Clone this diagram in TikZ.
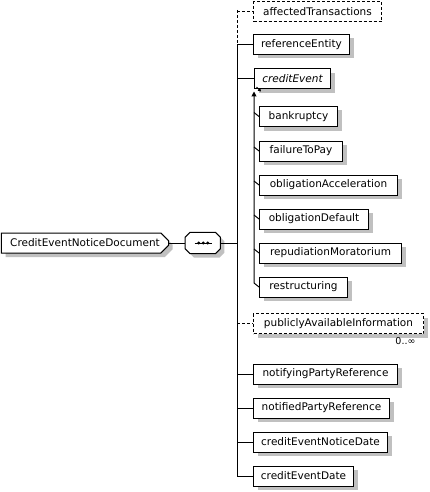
\documentclass[tikz,border=0pt]{standalone}
\usepackage{fontspec}
\setmainfont{DejaVu Sans}
\usetikzlibrary{arrows.meta, positioning, calc, shapes.misc, shadows}
\definecolor{shadowgray}{RGB}{192, 192, 192}
\newcommand{\elemfont}{\fontsize{10.5}{12}\selectfont}

\begin{document}
\begin{tikzpicture}[x=1pt, y=-1pt,
  box/.style={draw, line width=1pt, fill=white, minimum height=20pt, inner sep=0pt, anchor=west, font=\elemfont},
  boxshadow/.style={general shadow={fill=shadowgray, shadow xshift=4pt, shadow yshift=-4pt}},
  elem/.style={box, boxshadow},
  opt/.style={dash pattern=on 3pt off 2pt},
  link/.style={line width=1pt}]
  \useasboundingbox (0,0) rectangle (430,492);

  % root and sequence
  \node[elem, chamfered rectangle, chamfered rectangle corners={north east, south east},
    chamfered rectangle xsep=4pt, minimum width=167pt] (root) at (1,243) {CreditEventNoticeDocument};
  \node[minimum width=35pt, minimum height=21pt, inner sep=0pt, anchor=west] (seq) at (185,243) {};
  \draw[line width=1pt, fill=white, boxshadow] ([xshift=5pt]seq.north west) -- ([xshift=-5pt]seq.north east)
    -- ([yshift=-5pt]seq.north east) -- ([yshift=5pt]seq.south east) -- ([xshift=-5pt]seq.south east)
    -- ([xshift=5pt]seq.south west) -- ([yshift=5pt]seq.south west) -- ([yshift=-5pt]seq.north west) -- cycle;
  \draw[line width=1pt] ([xshift=-8pt]seq.center) -- ([xshift=9pt]seq.center);
  \fill ([xshift=-4pt]seq.center) circle (1.7pt);
  \fill ([xshift=0.5pt]seq.center) circle (1.7pt);
  \fill ([xshift=5pt]seq.center) circle (1.7pt);

  % children
  \node[box, opt, minimum width=128pt] (at) at (253,12) {affectedTransactions};
  \node[elem, minimum width=96pt] (refent) at (253,44.5) {referenceEntity};
  \node[elem, minimum width=76pt, font=\elemfont\itshape] (event) at (254,79) {creditEvent};
  \node[elem, minimum width=78pt] (bank) at (259,116.5) {bankruptcy};
  \node[elem, minimum width=83pt] (fail) at (259,151) {failureToPay};
  \node[elem, minimum width=138pt] (accel) at (259,185) {obligationAcceleration};
  \node[elem, minimum width=109pt] (odef) at (259,219) {obligationDefault};
  \node[elem, minimum width=142pt] (repud) at (259,253) {repudiationMoratorium};
  \node[elem, minimum width=88pt] (restr) at (259,287) {restructuring};
  \node[elem, opt, minimum width=170pt] (pub) at (253,323.5) {publiclyAvailableInformation};
  \node[font=\fontsize{9.5}{10}\selectfont, anchor=north east] (card) at ([xshift=-5pt]pub.south east) {0..∞};
  \node[elem, minimum width=144pt] (notifying) at (253,374) {notifyingPartyReference};
  \node[elem, minimum width=136pt] (notified) at (253,408) {notifiedPartyReference};
  \node[elem, minimum width=134pt] (ndate) at (253,442) {creditEventNoticeDate};
  \node[elem, minimum width=100pt] (edate) at (253,476) {creditEventDate};

  % reference icon
  \draw[line width=1pt, -{Triangle[width=3.5pt,length=3pt]}] ([shift={(2.5pt,2.5pt)}]event.south west) -- ++(4.5pt,-4.5pt);

  % connectors
  \coordinate (trunk) at (237,0);
  \coordinate (stem) at (254,0);
  \draw[link] (root.east) -- (seq.west);
  \draw[link] (seq.east) -- (trunk |- seq.east);
  \draw[link, opt] ([yshift=2pt]trunk |- at.west) -- (trunk |- refent.west);
  \draw[link, opt] (trunk |- at.west) -- (at.west);
  \draw[link] (trunk |- refent.west) -- (trunk |- edate.west) -- (edate.west);
  \draw[link] (trunk |- refent.west) -- (refent.west);
  \draw[link] (trunk |- event.west) -- (event.west);
  \draw[link, opt] (trunk |- pub.west) -- (pub.west);
  \draw[link] (trunk |- notifying.west) -- (notifying.west);
  \draw[link] (trunk |- notified.west) -- (notified.west);
  \draw[link] (trunk |- ndate.west) -- (ndate.west);

  \draw[link, {Triangle[width=5pt,length=5pt]}-] ([yshift=-2pt]stem |- event.south) -- ([yshift=4pt]stem |- restr.west) -- (restr.west);
  \draw[link] ([yshift=4pt]stem |- bank.west) -- (bank.west);
  \draw[link] ([yshift=4pt]stem |- fail.west) -- (fail.west);
  \draw[link] ([yshift=4pt]stem |- accel.west) -- (accel.west);
  \draw[link] ([yshift=4pt]stem |- odef.west) -- (odef.west);
  \draw[link] ([yshift=4pt]stem |- repud.west) -- (repud.west);
\end{tikzpicture}
\end{document}
